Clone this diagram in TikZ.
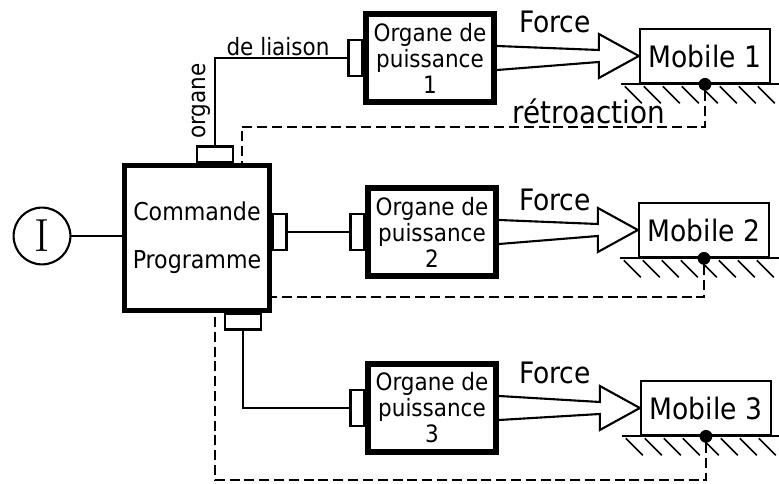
\documentclass[tikz,border=0pt]{standalone}
\usepackage{fontspec}
\newfontfamily\lettering{DejaVu Sans Condensed}
\usetikzlibrary{positioning, calc}

\begin{document}
\begin{tikzpicture}[
    x=0.025cm, y=-0.025cm,
    cmdbox/.style={rectangle, draw, line width=3.6pt, minimum width=3.63cm, minimum height=3.63cm, align=center, font=\lettering\fontsize{17.5}{34}\selectfont},
    organe/.style={rectangle, draw, line width=4.4pt, minimum width=3.2cm, minimum height=2.2cm, align=center, inner sep=0pt, font=\lettering\fontsize{17}{18.5}\selectfont},
    mobile/.style={rectangle, draw, line width=1.6pt, minimum width=3.25cm, minimum height=1.36cm, font=\lettering\fontsize{21}{22}\selectfont},
    stubv/.style={rectangle, draw, line width=1.6pt, minimum width=0.33cm, minimum height=0.9cm, inner sep=0pt},
    stubh/.style={rectangle, draw, line width=1.6pt, minimum width=0.9cm, minimum height=0.38cm, inner sep=0pt},
    link/.style={line width=1.5pt},
    hatch/.style={line width=1.2pt},
    fb/.style={line width=1.4pt, dash pattern=on 0.25cm off 0.12cm},
    force/.style={line width=1.5pt, line join=miter},
    lbl/.style={font=\lettering\fontsize{21}{22}\selectfont, inner sep=0pt},
    small/.style={font=\lettering\fontsize{17}{18}\selectfont, inner sep=0pt},
    contact/.style={circle, fill, inner sep=0pt, minimum size=0.32cm},
]
\useasboundingbox (0,0) rectangle (779,484);

% Input and programme
\node[circle, draw, line width=1.5pt, minimum size=1.42cm, font=\fontsize{33}{34}\selectfont] (inp) at (42,236) {I};
\node[cmdbox] (cmd) at (197,238) {Commande\\Programme};

% Power units
\node[organe] (org1) at (430,58) {Organe de\\puissance\\1};
\node[organe] (org2) at (432,232) {Organe de\\puissance\\2};
\node[organe] (org3) at (432,408) {Organe de\\puissance\\3};

% Moving parts
\node[mobile] (mob1) at (705,56) {Mobile 1};
\node[mobile] (mob2) at (704,230) {Mobile 2};
\node[mobile] (mob3) at (706,408) {Mobile 3};

% Connectors
\node[stubv, left=0pt of org1] (in1) {};
\node[stubv, left=0pt of org2] (in2) {};
\node[stubv, left=0pt of org3] (in3) {};
\node[stubh, anchor=south] (out1) at ($(cmd.north)+(18,0)$) {};
\node[stubv, anchor=west] (out2) at (cmd.east |- org2) {};
\node[stubh, anchor=north] (out3) at ($(cmd.south)+(46,0)$) {};

% Links
\draw[link] (inp.east) -- (inp.east -| cmd.west);
\draw[link] (out1.north) |- (in1.west);
\draw[link] (out2.east) -- (in2.west);
\draw[link] (out3.south) |- (in3.west);

\node[small, rotate=90] (lorg) at (201,101) {organe};
\node[small] (llia) at (278,47) {de liaison};

% Forces, ground and contact points
\coordinate (edge) at (779,0);
\foreach \i/\fy in {1/22,2/200,3/373} {
  \draw[force] ($(org\i.east)+(0,-12)$) -- ($(mob\i.west)+(-40,-6)$) -- ($(mob\i.west)+(-40,-22)$)
    -- (mob\i.west) -- ($(mob\i.west)+(-40,22)$) -- ($(mob\i.west)+(-40,6)$) -- ($(org\i.east)+(0,12)$);
  \node[lbl] (force\i) at (555,\fy) {Force};
  \draw[link] ($(mob\i.south west)+(-18,0)$) -- (mob\i.south -| edge);
  \foreach \k in {0,...,7}
    \draw[hatch] ($(mob\i.south west)+(-14+19*\k,2)$) -- ++(17,17);
  \node[contact] (pt\i) at (mob\i.south) {};
}

% Feedback
\coordinate (r1) at (242,127);
\coordinate (r2) at (0,297);
\coordinate (r3) at (215,480);
\draw[fb] (pt1.south) |- (r1) -- (r1 |- cmd.north);
\draw[fb] (pt2.south) |- (cmd.east |- r2);
\draw[fb] (pt3.south) |- (r3) -- (r3 |- cmd.south);
\node[lbl, font=\lettering\fontsize{22}{23}\selectfont] (lret) at (589,111) {rétroaction};

\end{tikzpicture}
\end{document}
